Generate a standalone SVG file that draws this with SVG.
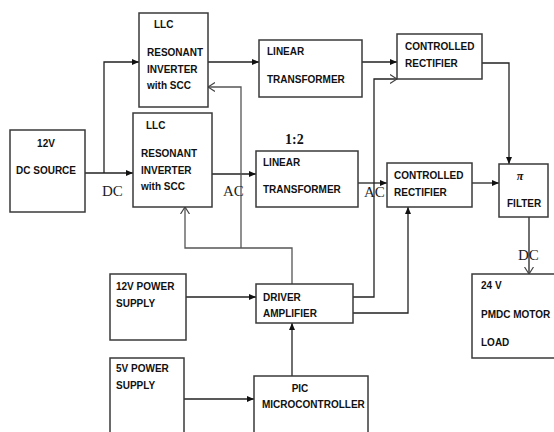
<svg xmlns="http://www.w3.org/2000/svg" width="554" height="432" viewBox="0 0 554 432">
<defs>
<style>
.box{fill:#fff;stroke:#3a3a3a;stroke-width:1.5}
.t{font-family:"Liberation Sans",Arial,sans-serif;font-weight:bold;font-size:10px;fill:#111}
.s{font-family:"Liberation Serif","Times New Roman",serif;font-size:15px;fill:#222}
.c{fill:none;stroke:#222;stroke-width:1.3}
.g{fill:none;stroke:#555;stroke-width:1.3}
</style>
<marker id="a" markerWidth="7" markerHeight="6" refX="7" refY="3" orient="auto" markerUnits="userSpaceOnUse"><path d="M0,0 L7,3 L0,6 z" fill="#111"/></marker>
<marker id="o" markerWidth="8" markerHeight="10" refX="7" refY="5" orient="auto" markerUnits="userSpaceOnUse"><path d="M0,0.5 L7,5 L0,9.5" fill="none" stroke="#444" stroke-width="1.2"/></marker>
</defs>
<rect width="554" height="432" fill="#fff"/>

<g id="connectors">
<path class="c" d="M85,173 H133" marker-end="url(#a)"/>
<path class="c" d="M104,173 V62 H139" marker-end="url(#a)"/>
<path class="c" d="M208,62 H259" marker-end="url(#a)"/>
<path class="c" d="M212,174 H256" marker-end="url(#a)"/>
<path class="c" d="M362,62 H397" marker-end="url(#a)"/>
<path class="c" d="M358,183 H387" marker-end="url(#a)"/>
<path class="c" d="M472,183 H499" marker-end="url(#a)"/>
<path class="c" d="M482,63 H509 V164" marker-end="url(#a)"/>
<path class="c" d="M529,217 V274" marker-end="url(#o)"/>
<path class="c" d="M186,297 H256" marker-end="url(#a)"/>
<path class="c" d="M184,399 H254" marker-end="url(#a)"/>
<path class="c" d="M292,376 V323" marker-end="url(#a)"/>
<path class="g" d="M292,284 V248 H185 V207" marker-end="url(#o)"/>
<path class="g" d="M241,248 V87 H208" marker-end="url(#o)"/>
<path class="c" d="M353,297 H374 V79 H397" marker-end="url(#o)"/>
<path class="c" d="M353,313 H408 V207" marker-end="url(#a)"/>
<text class="s" x="102" y="196">DC</text>
<text class="s" x="223" y="196">AC</text>
<text class="s" x="364" y="197">AC</text>
<text class="s" x="518" y="260">DC</text>
</g>

<g id="dc-source">
<rect class="box" x="10" y="130" width="75" height="82"/>
<text class="t" x="46" y="147" text-anchor="middle">12V</text>
<text class="t" x="46" y="174" text-anchor="middle">DC SOURCE</text>
</g>

<g id="llc-top">
<rect class="box" x="139" y="13" width="69" height="94"/>
<text class="t" x="154" y="28">LLC</text>
<text class="t" x="147" y="56">RESONANT</text>
<text class="t" x="147" y="73">INVERTER</text>
<text class="t" x="147" y="89">with SCC</text>
</g>

<g id="llc-bottom">
<rect class="box" x="133" y="113" width="79" height="94"/>
<text class="t" x="146" y="129">LLC</text>
<text class="t" x="141" y="157">RESONANT</text>
<text class="t" x="141" y="174">INVERTER</text>
<text class="t" x="141" y="190">with SCC</text>
</g>

<g id="transformer-top">
<rect class="box" x="259" y="40" width="103" height="57"/>
<text class="t" x="267" y="55">LINEAR</text>
<text class="t" x="267" y="83">TRANSFORMER</text>
</g>

<g id="transformer-bottom">
<text x="285" y="144" font-family="Liberation Serif, 'Times New Roman', serif" font-weight="bold" font-size="14" fill="#111">1:2</text>
<rect class="box" x="256" y="151" width="102" height="56"/>
<text class="t" x="263" y="166">LINEAR</text>
<text class="t" x="263" y="193">TRANSFORMER</text>
</g>

<g id="rectifier-top">
<rect class="box" x="397" y="34" width="85" height="45"/>
<text class="t" x="405" y="50">CONTROLLED</text>
<text class="t" x="405" y="67">RECTIFIER</text>
</g>

<g id="rectifier-bottom">
<rect class="box" x="387" y="163" width="85" height="44"/>
<text class="t" x="394" y="179">CONTROLLED</text>
<text class="t" x="394" y="196">RECTIFIER</text>
</g>

<g id="pi-filter">
<rect class="box" x="499" y="164" width="49" height="53"/>
<text x="520" y="180" text-anchor="middle" font-family="Liberation Serif, 'Times New Roman', serif" font-weight="bold" font-style="italic" font-size="12" fill="#111">π</text>
<text class="t" x="507" y="207">FILTER</text>
</g>

<g id="motor-load">
<rect class="box" x="472" y="274" width="90" height="84"/>
<text class="t" x="481" y="289">24 V</text>
<text class="t" x="481" y="318">PMDC MOTOR</text>
<text class="t" x="481" y="346">LOAD</text>
</g>

<g id="ps-12v">
<rect class="box" x="110" y="274" width="76" height="66"/>
<text class="t" x="116" y="290">12V POWER</text>
<text class="t" x="116" y="307">SUPPLY</text>
</g>

<g id="ps-5v">
<rect class="box" x="110" y="358" width="74" height="80"/>
<text class="t" x="116" y="372">5V POWER</text>
<text class="t" x="116" y="389">SUPPLY</text>
</g>

<g id="driver">
<rect class="box" x="256" y="284" width="97" height="39"/>
<text class="t" x="263" y="301">DRIVER</text>
<text class="t" x="263" y="317">AMPLIFIER</text>
</g>

<g id="pic">
<rect class="box" x="254" y="376" width="114" height="62"/>
<text class="t" x="300" y="392" text-anchor="middle">PIC</text>
<text class="t" x="262" y="408">MICROCONTROLLER</text>
</g>
</svg>
